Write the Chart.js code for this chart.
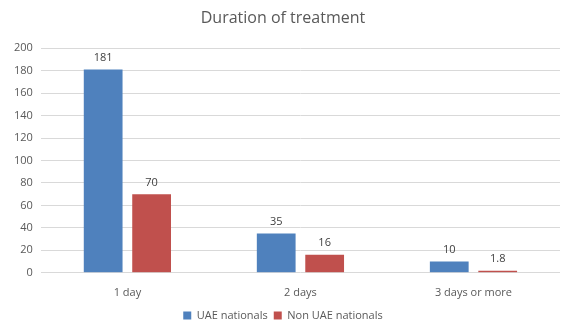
<!DOCTYPE html>
<html>
<head>
<meta charset="utf-8">
<script src="https://cdn.jsdelivr.net/npm/chart.js@4.4.0/dist/chart.umd.min.js"></script>
<style>
  body { margin: 0; background: #fff; }
</style>
</head>
<body>
<canvas id="grafico" width="567" height="332"></canvas>
<script>
// categorias e valores
const categorias = ["1 day", "2 days", "3 days or more"];
const uaeNacionais = [181, 35, 10];
const naoUaeNacionais = [70, 16, 1.8];
const ticksY = [0, 20, 40, 60, 80, 100, 120, 140, 160, 180, 200];

// plugin simples para escrever o valor acima de cada barra
const rotulosDados = {
  id: "rotulosDados",
  afterDatasetsDraw(chart) {
    const ctx = chart.ctx;
    ctx.save();
    ctx.font = "11px 'Open Sans', 'Liberation Sans', sans-serif";
    ctx.fillStyle = "#404040";
    ctx.textAlign = "center";
    ctx.textBaseline = "bottom";
    chart.data.datasets.forEach((dataset, i) => {
      chart.getDatasetMeta(i).data.forEach((barra, j) => {
        ctx.fillText(dataset.data[j], barra.x, barra.y - 6);
      });
    });
    ctx.restore();
  }
};

const grafico = document.getElementById("grafico");

new Chart(grafico, {
  type: "bar",
  data: {
    labels: categorias,
    datasets: [{
      label: "UAE nationals",
      data: uaeNacionais,
      backgroundColor: "#4F81BD",
      borderWidth: 0
    }, {
      label: "Non UAE nationals",
      data: naoUaeNacionais,
      backgroundColor: "#C0504D",
      borderWidth: 0
    }]
  },
  options: {
    responsive: false,
    animation: false,
    categoryPercentage: 0.56,
    barPercentage: 0.8,
    layout: { padding: { left: 6, right: 7, top: 0, bottom: 1 } },
    plugins: {
      title: {
        display: true,
        text: "Duration of treatment",
        color: "#595959",
        font: { family: "'Open Sans', 'Liberation Sans', sans-serif", size: 16, weight: "normal" },
        padding: { top: 9, bottom: 20 }
      },
      legend: {
        position: "bottom",
        labels: {
          color: "#595959",
          font: { family: "'Open Sans', 'Liberation Sans', sans-serif", size: 11 },
          boxWidth: 8,
          boxHeight: 8,
          padding: 6
        }
      },
      tooltip: { enabled: false }
    },
    scales: {
      x: {
        grid: { display: false },
        border: { display: false },
        ticks: {
          color: "#595959",
          font: { family: "'Open Sans', 'Liberation Sans', sans-serif", size: 11 },
          padding: 5
        }
      },
      y: {
        min: 0,
        max: 200,
        afterBuildTicks: (eixo) => { eixo.ticks = ticksY.map(v => ({ value: v })); },
        grid: { color: "#d9d9d9", drawTicks: false },
        border: { display: false },
        ticks: {
          color: "#595959",
          font: { family: "'Open Sans', 'Liberation Sans', sans-serif", size: 11 },
          padding: 8
        }
      }
    }
  },
  plugins: [rotulosDados]
});
</script>
</body>
</html>
